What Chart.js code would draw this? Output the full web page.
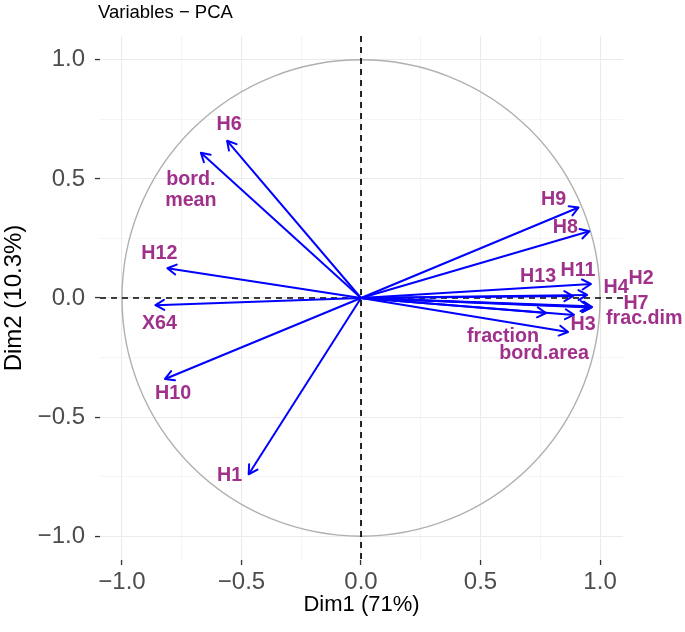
<!DOCTYPE html>
<html><head><meta charset="utf-8">
<script src="https://cdn.jsdelivr.net/npm/chart.js@4.4.1/dist/chart.umd.min.js"></script>
<style>html,body{margin:0;padding:0;background:#fff}#wrap{width:685px;height:632px;position:relative}</style>
</head><body><div id="wrap"><canvas id="c" width="685" height="632"></canvas></div>
<script>
// ---- data ----
const variables = ['H6','bord.\nmean','H12','X64','H10','H1','H9','H8','H11','H4','H13','H2','H7','frac.dim','bord.area','fraction','H3'];
const dim1 = [-0.56,-0.67,-0.81,-0.86,-0.82,-0.47,0.91,0.955,0.962,0.946,0.887,0.967,0.962,0.955,0.891,0.774,0.866];
const dim2 = [0.66,0.61,0.125,-0.03,-0.34,-0.74,0.38,0.28,0.059,0.013,0.008,-0.038,-0.04,-0.035,-0.071,-0.063,-0.143];
const majorTicks = [-1,-0.5,0,0.5,1];
const minorTicks = [-0.75,-0.25,0.25,0.75];
const tickLabels = ['\u22121.0','\u22120.5','0.0','0.5','1.0'];
const titleText = 'Variables \u2212 PCA';
const xTitle = 'Dim1 (71%)';
const yTitle = 'Dim2 (10.3%)';

// ---- label layout (pixel offsets of label centre from arrow tip) ----
const labelDx = [2,-10,-8,4,8,-19,-25,-24,-13,29,-35,49,45,55,-30,-43,15];
const labelDy = [-16,37,-15,18,15,1,-8,-4,-13,-7,-20,-28,-4,12,39,24,-7];

const ARROW = '#0000FF', LABEL = '#A0318A';

function isMajor(v){ return majorTicks.some(m => Math.abs(m - v) < 1e-9); }
function setTicks(scale){
  scale.ticks = majorTicks.concat(minorTicks).sort((a,b)=>a-b).map(v => ({value:v}));
}
function tickCb(value){
  const i = majorTicks.findIndex(m => Math.abs(m - value) < 1e-9);
  return i >= 0 ? tickLabels[i] : '';
}
function axisOpts(min, max, titleTxt, titleSize, titlePad, tickPad){
  return {
    type:'linear', min:min, max:max,
    afterBuildTicks: setTicks,
    border:{display:false},
    grid:{
      color: ctx => ctx.tick && isMajor(ctx.tick.value) ? '#EBEBEB' : '#EFEFEF',
      lineWidth: ctx => ctx.tick && isMajor(ctx.tick.value) ? 1.1 : 0.6,
      tickColor: ctx => ctx.tick && isMajor(ctx.tick.value) ? '#333333' : 'rgba(0,0,0,0)',
      tickLength:5, tickWidth:1.3, drawTicks:true
    },
    ticks:{ autoSkip:false, maxRotation:0, minRotation:0, callback:tickCb,
      color:'#4D4D4D', padding:tickPad, font:{family:'Liberation Sans, Arial, sans-serif', size:24} },
    title:{ display:true, text:titleTxt, color:'#000', padding:titlePad,
      font:{family:'Liberation Sans, Arial, sans-serif', size:titleSize} }
  };
}

const xScale = axisOpts(-1.092, 1.096, xTitle, 22, {top:0,bottom:14}, 3);
xScale.afterFit = s => { s.height = 72; };
const yScale = axisOpts(-1.1, 1.1, yTitle, 24, {top:0,bottom:0}, 10);
yScale.afterFit = s => { s.width = 100; };

const datasets = variables.map((v,i) => ({
  label: v,
  data: [{x:0,y:0},{x:dim1[i], y:dim2[i]}],
  borderColor: ARROW, borderWidth: 2, pointRadius: 0, showLine: true, fill:false
}));

const decor = {
  id:'decor',
  beforeDatasetsDraw(chart){
    const {ctx, chartArea:a, scales:{x,y}} = chart;
    ctx.save();
    const cx = x.getPixelForValue(0), cy = y.getPixelForValue(0);
    const rx = x.getPixelForValue(1) - cx, ry = cy - y.getPixelForValue(1);
    ctx.strokeStyle = '#B0B0B0'; ctx.lineWidth = 1.4;
    ctx.beginPath(); ctx.ellipse(cx, cy, rx, ry, 0, 0, Math.PI*2); ctx.stroke();
    ctx.strokeStyle = '#000'; ctx.lineWidth = 1.7; ctx.setLineDash([6,5]);
    ctx.beginPath(); ctx.moveTo(a.left, cy); ctx.lineTo(a.right, cy); ctx.stroke();
    ctx.beginPath(); ctx.moveTo(cx, a.top); ctx.lineTo(cx, a.bottom); ctx.stroke();
    ctx.restore();
  },
  afterDatasetsDraw(chart){
    const {ctx, scales:{x,y}} = chart;
    ctx.save();
    const ox = x.getPixelForValue(0), oy = y.getPixelForValue(0);
    ctx.strokeStyle = ARROW; ctx.lineWidth = 2; ctx.lineCap = 'round'; ctx.lineJoin='round';
    variables.forEach((v,i) => {
      const tx = x.getPixelForValue(dim1[i]), ty = y.getPixelForValue(dim2[i]);
      const ang = Math.atan2(ty - oy, tx - ox);
      const L = 10, w = Math.PI/6;
      ctx.beginPath();
      ctx.moveTo(tx - L*Math.cos(ang - w), ty - L*Math.sin(ang - w));
      ctx.lineTo(tx, ty);
      ctx.lineTo(tx - L*Math.cos(ang + w), ty - L*Math.sin(ang + w));
      ctx.stroke();
    });
    ctx.fillStyle = LABEL; ctx.font = 'bold 19.7px "Liberation Sans", Arial, sans-serif';
    ctx.textAlign = 'center'; ctx.textBaseline = 'middle';
    variables.forEach((v,i) => {
      const tx = x.getPixelForValue(dim1[i]), ty = y.getPixelForValue(dim2[i]);
      const lines = v.split('\n');
      const lh = 21;
      lines.forEach((ln,k) => {
        ctx.fillText(ln, tx + labelDx[i], ty + labelDy[i] + (k - (lines.length-1)/2)*lh);
      });
    });
    ctx.restore();
  },
  afterDraw(chart){
    const {ctx} = chart;
    ctx.save();
    ctx.fillStyle = '#000'; ctx.font = '18.5px "Liberation Sans", Arial, sans-serif';
    ctx.textAlign = 'left'; ctx.textBaseline = 'alphabetic';
    ctx.fillText(titleText, 98, 18);
    ctx.restore();
  }
};

new Chart(document.getElementById('c'), {
  type:'scatter',
  data:{ datasets },
  options:{
    responsive:false, animation:false, devicePixelRatio:1,
    layout:{ padding:{top:36, right:62, bottom:0, left:0} },
    plugins:{ legend:{display:false}, tooltip:{enabled:false}, title:{display:false} },
    scales:{ x:xScale, y:yScale }
  },
  plugins:[decor]
});
</script></body></html>
